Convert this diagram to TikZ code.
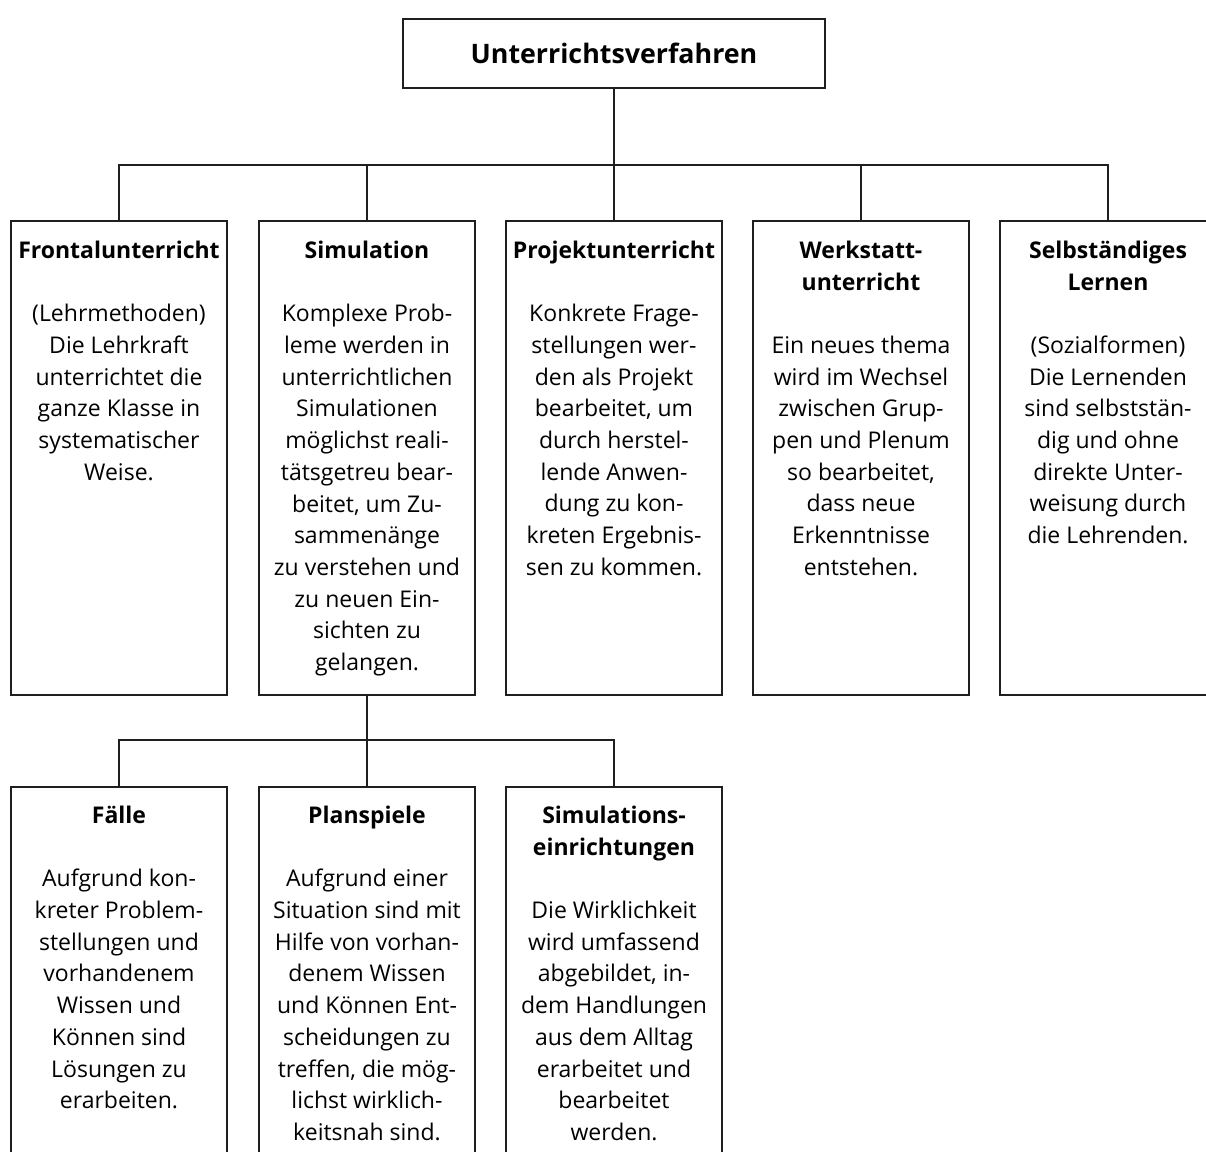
\documentclass[tikz,border=0pt]{standalone}
\usepackage{fontspec}
\setmainfont{Open Sans}
\begin{document}
\begin{tikzpicture}[x=1pt,y=-1pt,
  box/.style={draw=black!88, line width=1.7pt, minimum width=216pt, inner sep=0pt, anchor=north},
  wire/.style={draw=black!88, line width=1.7pt},
  txt/.style={align=center, inner sep=0pt, anchor=north, font=\fontsize{23}{31.7}\selectfont},
]
\useasboundingbox (0,0) rectangle (1206,1151);
\clip (0,0) rectangle (1206,1151);

% root
\node[draw=black!88, line width=1.7pt, minimum width=422pt, minimum height=69pt,
      font=\fontsize{26.8}{32}\selectfont\bfseries] (head) at (614,53.5) {Unterrichtsverfahren};

% first level boxes
\node[box, minimum height=474pt] (frontal)   at (119,220) {};
\node[box, minimum height=474pt] (simulation) at (367,220) {};
\node[box, minimum height=474pt] (projekt)   at (614,220) {};
\node[box, minimum height=474pt] (werkstatt) at (861,220) {};
\node[box, minimum height=474pt] (selbst)    at (1108,220) {};

% second level boxes (run off the lower edge)
\node[box, minimum height=390pt] (faelle)     at (119,786) {};
\node[box, minimum height=390pt] (planspiele) at (367,786) {};
\node[box, minimum height=390pt] (einricht)   at (614,786) {};

% connectors
\coordinate (bus1) at (614,165);
\draw[wire] (head.south) -- (bus1);
\foreach \n in {frontal,simulation,projekt,werkstatt,selbst}
  \draw[wire] (bus1) -| (\n.north);
\coordinate (bus2) at (367,740);
\draw[wire] (simulation.south) -- (bus2);
\foreach \n in {faelle,planspiele,einricht}
  \draw[wire] (bus2) -| (\n.north);

% texts, first level
\node[txt] (t-frontal) at (119,236) {\strut\textbf{Frontalunterricht}\\[31.7pt]
  (Lehrmethoden)\\Die Lehrkraft\\unterrichtet die\\ganze Klasse in\\systematischer\\Weise.};
\node[txt] (t-simulation) at (367,236) {\strut\textbf{Simulation}\\[31.7pt]
  Komplexe Prob-\\leme werden in\\unterrichtlichen\\Simulationen\\möglichst reali-\\tätsgetreu bear-\\beitet, um Zu-\\sammenänge\\zu verstehen und\\zu neuen Ein-\\sichten zu\\gelangen.};
\node[txt] (t-projekt) at (614,236) {\strut\textbf{Projektunterricht}\\[31.7pt]
  Konkrete Frage-\\stellungen wer-\\den als Projekt\\bearbeitet, um\\durch herstel-\\lende Anwen-\\dung zu kon-\\kreten Ergebnis-\\sen zu kommen.};
\node[txt] (t-werkstatt) at (861,236) {\strut\textbf{Werkstatt-}\\\textbf{unterricht}\\[31.7pt]
  Ein neues thema\\wird im Wechsel\\zwischen Grup-\\pen und Plenum\\so bearbeitet,\\dass neue\\Erkenntnisse\\entstehen.};
\node[txt] (t-selbst) at (1108,236) {\strut\textbf{Selbständiges}\\\textbf{Lernen}\\[31.7pt]
  (Sozialformen)\\Die Lernenden\\sind selbststän-\\dig und ohne\\direkte Unter-\\weisung durch\\die Lehrenden.};

% texts, second level
\node[txt] (t-faelle) at (119,801) {\strut\textbf{Fälle}\\[31.7pt]
  Aufgrund kon-\\kreter Problem-\\stellungen und\\vorhandenem\\Wissen und\\Können sind\\Lösungen zu\\erarbeiten.};
\node[txt] (t-planspiele) at (367,801) {\strut\textbf{Planspiele}\\[31.7pt]
  Aufgrund einer\\Situation sind mit\\Hilfe von vorhan-\\denem Wissen\\und Können Ent-\\scheidungen zu\\treffen, die mög-\\lichst wirklich-\\keitsnah sind.};
\node[txt] (t-einricht) at (614,801) {\strut\textbf{Simulations-}\\\textbf{einrichtungen}\\[31.7pt]
  Die Wirklichkeit\\wird umfassend\\abgebildet, in-\\dem Handlungen\\aus dem Alltag\\erarbeitet und\\bearbeitet\\werden.};
\end{tikzpicture}
\end{document}
